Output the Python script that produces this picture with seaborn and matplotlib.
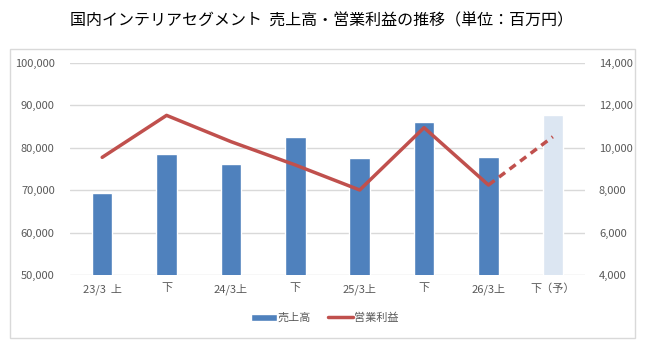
import matplotlib
matplotlib.use("Agg")
import matplotlib.pyplot as plt
import seaborn as sns
import pandas as pd
from matplotlib.patches import Rectangle
from matplotlib.lines import Line2D
from matplotlib.ticker import FuncFormatter, MultipleLocator

categories = ["23/3  上", "下", "24/3上", "下", "25/3上", "下", "26/3上", "下（予）"]
sales = [69400, 78600, 76200, 82600, 77700, 86200, 77900, 87800]
profit = [9550, 11530, 10290, 9190, 8010, 10950, 8245, 10520]
forecast = [False, False, False, False, False, False, False, True]

BLUE = "#4F81BD"
LIGHT = "#DCE6F2"
RED = "#C0504D"
GRID = "#D9D9D9"
TXT = "#595959"

sns.set_theme(style="white")
plt.rcParams['font.family'] = ['Noto Sans CJK JP', 'DejaVu Sans']

fig = plt.figure(figsize=(6.46, 3.45), dpi=100)
W, H = 646, 345
ax = fig.add_axes([70 / W, 1 - 275 / H, 515 / W, 212 / H])

df = pd.DataFrame({"cat": categories, "sales": sales})
df["key"] = [f"{i}" for i in range(len(categories))]
pal = {k: (LIGHT if f else BLUE) for k, f in zip(df["key"], forecast)}
sns.barplot(data=df, x="key", y="sales", hue="key", palette=pal, legend=False,
            width=0.32, ax=ax, saturation=1)
ax.set_xlim(-0.5, len(categories) - 0.5)
ax.set_ylim(50000, 100000)
ax.yaxis.set_major_locator(MultipleLocator(10000))
ax.yaxis.set_major_formatter(FuncFormatter(lambda v, p: f"{int(v):,}"))
ax.set_xticks(range(len(categories)))
ax.set_xticklabels(categories)
ax.set_xlabel("")
ax.set_ylabel("")
ax.grid(axis="y", color=GRID, linewidth=1)
ax.set_axisbelow(True)
for s in ax.spines.values():
    s.set_visible(False)
ax.tick_params(axis="y", length=0, labelsize=8, colors=TXT, pad=11)
ax.tick_params(axis="x", length=0, labelsize=8, colors=TXT, pad=6)

ax2 = ax.twinx()
pos = list(range(len(categories)))
n_act = len([f for f in forecast if not f])
sns.lineplot(x=pos[:n_act], y=profit[:n_act], color=RED, linewidth=2.5, ax=ax2)
sns.lineplot(x=pos[n_act - 1:], y=profit[n_act - 1:], color=RED, linewidth=2.5,
             linestyle=(0, (2.2, 1.6)), ax=ax2)
ax2.set_ylim(4000, 14000)
ax2.yaxis.set_major_locator(MultipleLocator(2000))
ax2.yaxis.set_major_formatter(FuncFormatter(lambda v, p: f"{int(v):,}"))
ax2.set_xlim(-0.5, len(categories) - 0.5)
for s in ax2.spines.values():
    s.set_visible(False)
ax2.tick_params(axis="y", length=0, labelsize=8, colors=TXT, pad=10)
ax2.grid(False)

# chart border
fig.patches.append(Rectangle((10 / W, 1 - 338 / H), 625 / W, 289 / H,
                             transform=fig.transFigure, fill=False,
                             edgecolor=GRID, linewidth=1))

fig.text(322 / W, 1 - 21 / H, "国内インテリアセグメント  売上高・営業利益の推移（単位：百万円）",
         ha="center", va="center", fontsize=11.5, color="#000000")

handles = [Rectangle((0, 0), 1, 1, facecolor=BLUE),
           Line2D([0], [0], color=RED, linewidth=2.5)]
fig.legend(handles, ["売上高", "営業利益"], loc="center",
           bbox_to_anchor=(325 / W, 1 - 318 / H), ncol=2, frameon=False,
           fontsize=8, labelcolor=TXT, handlelength=2.3, handleheight=0.6,
           handletextpad=0.1, columnspacing=1.5)

fig.savefig("out.png", dpi=100)
